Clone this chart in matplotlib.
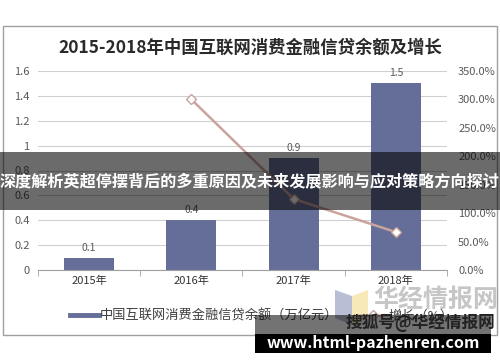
import matplotlib.pyplot as plt
from matplotlib.patches import Rectangle, Polygon
from matplotlib.lines import Line2D

plt.rcParams['font.family'] = ['Noto Sans CJK SC', 'DejaVu Sans']

# 数据
years = ['2015年', '2016年', '2017年', '2018年']
balance = [0.1, 0.4, 0.9, 1.5]          # 万亿元
growth = [None, 300.0, 125.0, 66.7]     # %
left_ticks = [0, 0.2, 0.4, 0.6, 0.8, 1, 1.2, 1.4, 1.6]
right_ticks = [0, 50, 100, 150, 200, 250, 300, 350]

bar_color = '#646E98'
line_color = '#C9A39D'
txt_color = '#595959'

fig = plt.figure(figsize=(5, 3.62), dpi=100)
fig.patch.set_facecolor('white')

# 外框
fig.patches.append(Rectangle((3 / 500, 1 - 335 / 362), 494 / 500, 309 / 362,
                             transform=fig.transFigure, fill=False,
                             edgecolor='#A0A0A0', linewidth=1))

fig.text(0.5, 1 - 48 / 362, '2015-2018年中国互联网消费金融信贷余额及增长',
         ha='center', va='center', fontsize=12.5, fontweight='bold', color='#2a2a2a')

ax = fig.add_axes([38 / 500, 1 - 270 / 362, 409 / 500, 199 / 362])
x = range(len(years))
bars = ax.bar(x, balance, width=0.49, color=bar_color, zorder=2)
for xi, v in zip(x, balance):
    ax.text(xi, v + 0.04, f'{v:g}', ha='center', va='bottom', fontsize=7.5, color=txt_color)

ax.set_xlim(-0.5, 3.5)
ax.set_ylim(0, 1.6)
ax.set_yticks(left_ticks)
ax.set_yticklabels([f'{t:g}' for t in left_ticks])
ax.set_xticks(list(x))
ax.set_xticklabels(years)
ax.set_xticks([-0.5, 0.5, 1.5, 2.5, 3.5], minor=True)
ax.tick_params(axis='x', which='major', length=0, labelsize=8, colors='#333333', pad=4)
ax.tick_params(axis='x', which='minor', length=4, color='#A0A0A0')
ax.tick_params(axis='y', length=0, labelsize=8, colors=txt_color, pad=6)
ax.grid(axis='y', color='#D0D0D0', linewidth=0.8, zorder=0)
ax.set_axisbelow(True)
for s in ['top', 'right', 'left']:
    ax.spines[s].set_visible(False)
ax.spines['bottom'].set_color('#A0A0A0')

ax2 = ax.twinx()
gx = [i for i, g in zip(x, growth) if g is not None]
gy = [g for g in growth if g is not None]
ax2.plot(gx, gy, color=line_color, linewidth=1.8, marker='D', markersize=5,
         markerfacecolor='white', markeredgecolor=line_color, zorder=3)
ax2.set_ylim(0, 350)
ax2.set_yticks(right_ticks)
ax2.set_yticklabels([f'{t:.1f}%' for t in right_ticks])
ax2.tick_params(axis='y', length=0, labelsize=8, colors=txt_color, pad=8)
for s in ['top', 'right', 'left', 'bottom']:
    ax2.spines[s].set_visible(False)

# 图例
handles = [Line2D([], [], color=bar_color, linewidth=3.5),
           Line2D([], [], color=line_color, linewidth=1.8, marker='D', markersize=5,
                  markerfacecolor='white', markeredgecolor=line_color)]
fig.legend(handles, ['中国互联网消费金融信贷余额（万亿元）', '增长（%）'],
           loc='center left', bbox_to_anchor=(58 / 500, 1 - 316 / 362), ncol=2, frameon=False,
           fontsize=9.5, handlelength=2.2, handletextpad=0.1, columnspacing=1.5,
           labelcolor='#404040')

# 水印
fig.patches.append(Polygon([(335 / 500, 1 - 290 / 362), (352 / 500, 1 - 296 / 362),
                            (352 / 500, 1 - 325 / 362), (335 / 500, 1 - 318 / 362)],
                           closed=True, transform=fig.transFigure,
                           facecolor='#8A93B8', alpha=0.6, zorder=5))
fig.patches.append(Polygon([(352 / 500, 1 - 296 / 362), (368 / 500, 1 - 290 / 362),
                            (368 / 500, 1 - 318 / 362), (352 / 500, 1 - 325 / 362)],
                           closed=True, transform=fig.transFigure,
                           facecolor='#F2DC8A', alpha=0.6, zorder=5))
fig.text(436 / 500, 1 - 300 / 362, '华经情报网', ha='center', va='center',
         fontsize=18, color='#B8B8B8', alpha=0.8, fontweight='bold', zorder=5)

fig.patches.append(Rectangle((255 / 500, 1 - 334 / 362), 236 / 500, 19 / 362,
                             transform=fig.transFigure, facecolor='black',
                             alpha=0.55, edgecolor='none', zorder=6))
fig.text(420 / 500, 1 - 323 / 362, '搜狐号@华经情报网', ha='center', va='center',
         fontsize=12, color='#222222', fontweight='bold', zorder=7)
fig.patches.append(Rectangle((255 / 500, 1 - 353 / 362), 236 / 500, 19.5 / 362,
                             transform=fig.transFigure, facecolor='black',
                             edgecolor='none', zorder=6))
fig.text(373 / 500, 1 - 343 / 362, 'www.html-pazhenren.com', ha='center', va='center',
         fontsize=11.5, color='white', fontweight='bold', zorder=7)

# 标题横幅
fig.patches.append(Rectangle((0, 1 - 210 / 362), 1, 58 / 362,
                             transform=fig.transFigure, facecolor='black',
                             alpha=0.58, edgecolor='none', zorder=8))
fig.text(0.5, 1 - 181 / 362, '深度解析英超停摆背后的多重原因及未来发展影响与应对策略方向探讨',
         ha='center', va='center', fontsize=11.6, color='white', fontweight='bold', zorder=9)

fig.savefig('out.png', dpi=100)
